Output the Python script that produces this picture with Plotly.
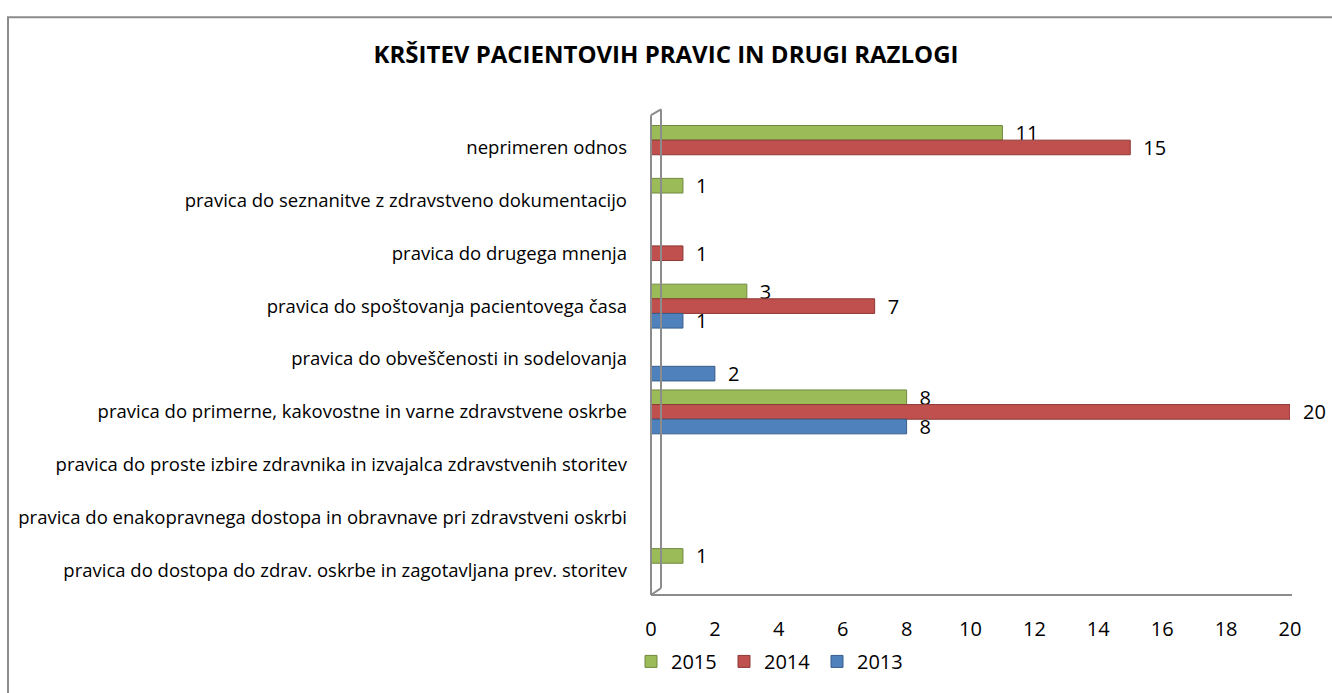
import plotly.graph_objects as go

categories = [
    "neprimeren odnos",
    "pravica do seznanitve z zdravstveno dokumentacijo",
    "pravica do drugega mnenja",
    "pravica do spoštovanja pacientovega časa",
    "pravica do obveščenosti in sodelovanja",
    "pravica do primerne, kakovostne in varne zdravstvene oskrbe",
    "pravica do proste izbire zdravnika in izvajalca zdravstvenih storitev",
    "pravica do enakopravnega dostopa in obravnave pri zdravstveni oskrbi",
    "pravica do dostopa do zdrav. oskrbe in zagotavljana prev. storitev",
]
v2015 = [11, 1, 0, 3, 0, 8, 0, 0, 1]
v2014 = [15, 0, 1, 7, 0, 20, 0, 0, 0]
v2013 = [0, 0, 0, 1, 2, 8, 0, 0, 0]
series_names = ["2015", "2014", "2013"]
tick_vals = list(range(0, 21, 2))

colors = {"2015": "#9BBB59", "2014": "#C0504D", "2013": "#4F81BD"}
lines = {"2015": "#71893F", "2014": "#8C3836", "2013": "#385D8A"}

W, H = 1332, 693
# plot area in pixel coordinates
L, R, T, B = 651, 1290, 120.5, 618.6

def px(x):
    return (x - L) / (R - L)

def py(y):
    return (B - y) / (B - T)

fig = go.Figure()
for name, vals in zip(series_names, [v2015, v2014, v2013]):
    fig.add_trace(go.Bar(
        y=categories, x=vals, orientation="h", name=name,
        marker=dict(color=colors[name], line=dict(color=lines[name], width=1)),
        text=["\u2002" + str(v) if v else "" for v in vals],
        textposition="outside", constraintext="none",
        textfont=dict(size=20, color="#000000", family="Open Sans"),
        cliponaxis=False,
    ))

gray = "#8C8C8C"
shapes = [
    dict(type="rect", xref="paper", yref="paper", x0=px(8), x1=px(1450), y0=py(12), y1=py(800),
         line=dict(color=gray, width=2), fillcolor="rgba(0,0,0,0)", layer="below"),
    dict(type="line", xref="paper", yref="paper", x0=px(651), x1=px(651), y0=py(114.4), y1=py(616.5),
         line=dict(color=gray, width=2)),
    dict(type="line", xref="paper", yref="paper", x0=px(661), x1=px(661), y0=py(108.3), y1=py(609.3),
         line=dict(color=gray, width=2)),
    dict(type="line", xref="paper", yref="paper", x0=px(651), x1=px(661), y0=py(114.4), y1=py(108.3),
         line=dict(color=gray, width=2)),
    dict(type="line", xref="paper", yref="paper", x0=px(651), x1=px(661), y0=py(616.5), y1=py(609.3),
         line=dict(color=gray, width=2)),
    dict(type="line", xref="paper", yref="paper", x0=px(651), x1=px(1292), y0=py(616.5), y1=py(616.5),
         line=dict(color=gray, width=2)),
]

fig.update_layout(
    width=W, height=H,
    margin=dict(l=L, r=W - R, t=T, b=H - B, pad=0),
    paper_bgcolor="white", plot_bgcolor="white",
    barmode="group", bargap=0.17, bargroupgap=0,
    title=dict(text="<b>KRŠITEV PACIENTOVIH PRAVIC IN DRUGI RAZLOGI</b>",
               xref="container", x=666 / W, xanchor="center",
               yref="container", y=1 - 55 / H, yanchor="middle",
               font=dict(size=24, color="#000000", family="Open Sans")),
    font=dict(family="Open Sans", color="#000000"),
    xaxis=dict(range=[0, 20], tickvals=tick_vals, showgrid=False, zeroline=False,
               showline=False, ticks="", ticklabelstandoff=18,
               tickfont=dict(size=20, color="#000000")),
    yaxis=dict(categoryorder="array", categoryarray=categories, autorange="reversed",
               showgrid=False, zeroline=False, showline=False, ticks="",
               ticklabelstandoff=23, tickfont=dict(size=18.5, color="#000000")),
    legend=dict(orientation="h", x=px(631), xanchor="left", y=py(686), yanchor="middle",
                font=dict(size=20), entrywidth=48, entrywidthmode="pixels",
                itemclick=False, bgcolor="rgba(0,0,0,0)"),
    shapes=shapes,
)

fig.write_html(
    "out.html",
    config={"displayModeBar": False},
    post_script="document.body.style.margin='0';document.body.style.overflow='hidden';",
)
